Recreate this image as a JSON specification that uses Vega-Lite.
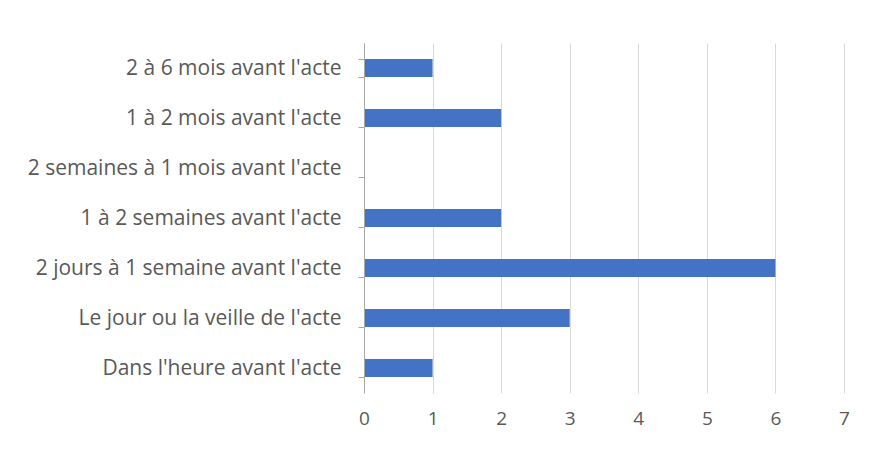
{
  "$schema": "https://vega.github.io/schema/vega-lite/v6.json",
  "width": 480,
  "height": 350,
  "autosize": {"type": "none"},
  "padding": {"left": 364, "top": 43, "right": 28, "bottom": 59},
  "background": "white",
  "config": {
    "view": {"stroke": null},
    "font": "Open Sans"
  },
  "data": {
    "values": [
      {"periode": "2 à 6 mois avant l'acte", "n": 1},
      {"periode": "1 à 2 mois avant l'acte", "n": 2},
      {"periode": "2 semaines à 1 mois avant l'acte", "n": 0},
      {"periode": "1 à 2 semaines avant l'acte", "n": 2},
      {"periode": "2 jours à 1 semaine avant l'acte", "n": 6},
      {"periode": "Le jour ou la veille de l'acte ", "n": 3},
      {"periode": "Dans l'heure avant l'acte", "n": 1}
    ]
  },
  "mark": {"type": "bar", "color": "#4472C4"},
  "encoding": {
    "y": {
      "field": "periode",
      "type": "nominal",
      "sort": null,
      "scale": {"paddingInner": 0.64, "paddingOuter": 0.32},
      "axis": {
        "title": null,
        "domain": true,
        "domainColor": "#a6a6a6",
        "domainWidth": 1,
        "tickColor": "#a6a6a6",
        "tickSize": 6,
        "tickBand": "extent",
        "labelPadding": 17,
        "labelFontSize": 21,
        "labelColor": "#595959",
        "labelLimit": 400,
        "grid": false,
        "zindex": 1
      }
    },
    "x": {
      "field": "n",
      "type": "quantitative",
      "scale": {"domain": [0, 7], "nice": false},
      "axis": {
        "title": null,
        "values": [0, 1, 2, 3, 4, 5, 6, 7],
        "domain": false,
        "ticks": false,
        "grid": true,
        "gridColor": "#d9d9d9",
        "labelFlush": false,
        "labelPadding": 16,
        "labelFontSize": 19,
        "labelColor": "#595959"
      }
    }
  }
}
